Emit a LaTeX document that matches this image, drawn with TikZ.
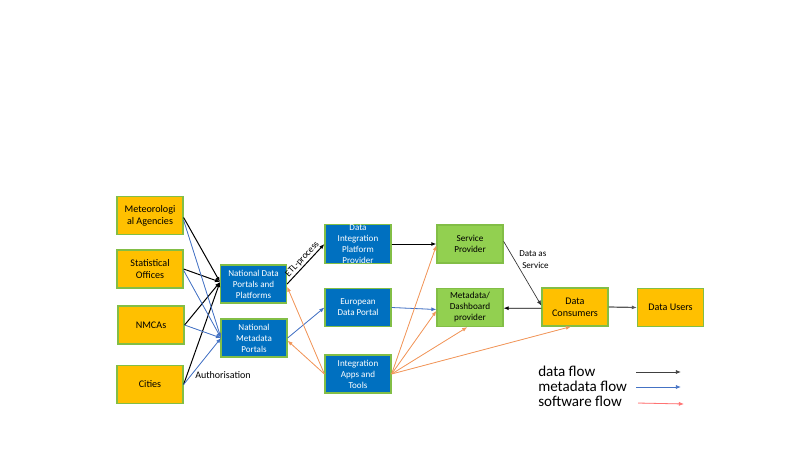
\documentclass[tikz,border=0pt]{standalone}
\usepackage{fontspec}
\setmainfont{Carlito}
\usetikzlibrary{arrows.meta}
\definecolor{boxorange}{RGB}{255,192,0}
\definecolor{boxblue}{RGB}{0,112,192}
\definecolor{boxgreen}{RGB}{146,208,80}
\definecolor{edgegreen}{RGB}{130,190,70}
\definecolor{metablue}{RGB}{68,114,196}
\definecolor{softorange}{RGB}{241,150,90}
\definecolor{legred}{RGB}{255,0,0}
\tikzset{
  basebox/.style={draw=edgegreen, line width=0.9pt, minimum width=49.5pt, minimum height=28.5pt, inner sep=0pt, align=center},
  obox/.style={basebox, fill=boxorange, text=black, font=\fontsize{7.6}{9}\selectfont},
  bbox/.style={basebox, fill=boxblue, text=white, font=\fontsize{6.8}{8.25}\selectfont},
  gbox/.style={basebox, fill=boxgreen, text=black, font=\fontsize{6.9}{8.25}\selectfont},
  tip/.style={-{Latex[length=3.8pt,width=3pt]}},
  dflow/.style={tip, draw=black, line width=0.75pt},
  thinflow/.style={tip, draw=black!80, line width=0.5pt},
  mflow/.style={tip, draw=metablue, fill=metablue, line width=0.6pt},
  sflow/.style={tip, draw=softorange, fill=softorange, line width=0.6pt},
  rflow/.style={tip, draw=legred, fill=legred, line width=0.6pt},
  legtext/.style={anchor=west, inner sep=0pt, font=\fontsize{11.3}{13}\selectfont},
  smalltext/.style={inner sep=0pt, font=\fontsize{6.8}{9.5}\selectfont, align=left}
}
\begin{document}
\begin{tikzpicture}[x=0.75pt,y=-0.75pt]
\useasboundingbox (0,0) rectangle (800,450);
% left sources
\node[obox] (met) at (150,215.5) {Meteorologi\\al Agencies};
\node[obox] (stat) at (150,269) {Statistical\\Offices};
\node[obox] (nmca) at (151,325) {NMCAs};
\node[obox] (cities) at (150,384.5) {Cities};
% national portals
\node[bbox] (ndp) at (253.5,284) {National Data\\Portals and\\Platforms};
\node[bbox] (nmp) at (254,338) {National\\Metadata\\Portals};
% middle column
\node[bbox] (dip) at (358,244) {Data\\Integration\\Platform\\Provider};
\node[bbox] (edp) at (358,307.5) {European\\Data Portal};
\node[bbox] (iat) at (358,374) {Integration\\Apps and\\Tools};
% green providers
\node[gbox] (sp) at (470,244) {Service\\Provider};
\node[gbox] (mdp) at (470,307.5) {Metadata/\\Dashboard\\provider};
% consumers
\node[obox] (dc) at (575,307) {Data\\Consumers};
\node[obox] (du) at (670.5,307.5) {Data Users};
% convergence points
\coordinate (ndpin) at (220,282);
\coordinate (nmpin) at (221,338);
% data flows to national data portals
\draw[dflow] ([yshift=-1.5]met.east) -- (ndpin);
\draw[dflow] (stat.east) -- (ndpin);
\draw[dflow] (nmca.east) -- (ndpin);
\draw[dflow] (cities.east) -- (ndpin);
% metadata flows to national metadata portals
\draw[mflow] ([yshift=-3.5]met.east) -- (nmpin);
\draw[mflow] ([yshift=-1]stat.east) -- (nmpin);
\draw[mflow] (nmca.east) -- (nmpin);
\draw[mflow] (cities.east) -- (nmpin);
\node[smalltext, anchor=west, font=\fontsize{7.5}{8}\selectfont] (auth) at (195,375) {Authorisation};
% ETL
\draw[dflow] (ndp.east) -- node[sloped, above, pos=0.52, inner sep=1pt, font=\fontsize{7}{7}\selectfont] (etl) {ETL-process} (dip.west);
\draw[dflow] (dip.east) -- (sp.west);
\draw[mflow] (nmp.east) -- (edp.west);
\draw[mflow] (edp.east) -- ([yshift=-1.5]mdp.west);
% software flows
\draw[sflow] (iat.west) -- ([yshift=-2]ndp.east);
\draw[sflow] (iat.west) -- ([yshift=-2]nmp.east);
\draw[sflow] (iat.east) -- ([yshift=-1]sp.west);
\draw[sflow] (iat.east) -- ([yshift=-2.5]mdp.west);
\draw[sflow] (iat.east) -- ([xshift=-2]mdp.south);
\draw[sflow] (iat.east) -- ([xshift=-3]dc.south);
% service provider to consumers
\draw[thinflow] ([yshift=2]sp.east) -- ([yshift=1]dc.west);
\node[smalltext] (daas) at (534,259.5) {Data as\\\hspace*{2.2pt}Service};
\draw[dflow, line width=0.6pt] ([yshift=-1]dc.west) -- ([yshift=-0.5]mdp.east);
\draw[dflow, draw=black!65, line width=0.9pt] (dc.east) -- (du.west);
% legend
\node[legtext] (l1) at (538,371) {data flow};
\node[legtext] (l2) at (538,386) {metadata flow};
\node[legtext] (l3) at (538,401) {software flow};
\coordinate (a1s) at (636,372);
\coordinate (a1e) at (681,372);
\coordinate (a2s) at (636,387);
\coordinate (a2e) at (681,387);
\coordinate (a3s) at (638,403);
\coordinate (a3e) at (684,404);
\draw[dflow, draw=black!75, line width=0.6pt] (a1s) -- (a1e);
\draw[mflow] (a2s) -- (a2e);
\draw[rflow, draw=red!55] (a3s) -- (a3e);
\end{tikzpicture}
\end{document}
